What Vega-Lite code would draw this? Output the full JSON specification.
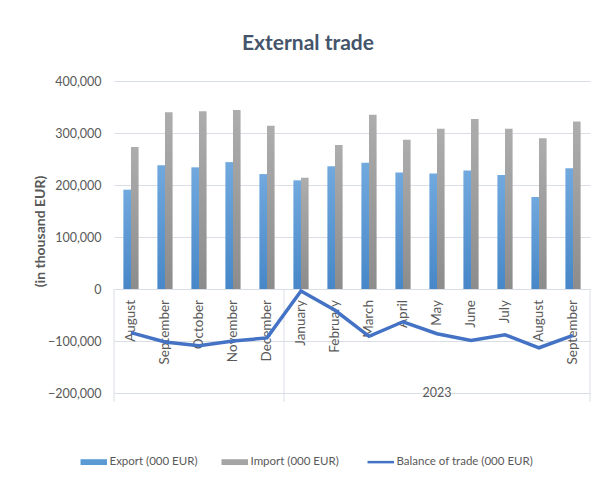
{
  "$schema": "https://vega.github.io/schema/vega-lite/v6.json",
  "width": 476,
  "height": 312,
  "autosize": {"type": "none"},
  "padding": {"left": 114, "top": 81, "right": 9, "bottom": 89},
  "background": "white",
  "config": {
    "font": "Lato",
    "view": {"stroke": null},
    "axis": {"labelFont": "Lato", "titleFont": "Lato"}
  },
  "title": {
    "text": "External trade",
    "font": "Lato",
    "fontSize": 21,
    "fontWeight": "bold",
    "color": "#44546A",
    "anchor": "middle",
    "dx": -44,
    "offset": 21
  },
  "datasets": {
    "trade": [
      {"month": "2022-08", "series": "Export (000 EUR)", "value": 191000},
      {"month": "2022-08", "series": "Import (000 EUR)", "value": 273000},
      {"month": "2022-09", "series": "Export (000 EUR)", "value": 238000},
      {"month": "2022-09", "series": "Import (000 EUR)", "value": 340000},
      {"month": "2022-10", "series": "Export (000 EUR)", "value": 234000},
      {"month": "2022-10", "series": "Import (000 EUR)", "value": 342000},
      {"month": "2022-11", "series": "Export (000 EUR)", "value": 244000},
      {"month": "2022-11", "series": "Import (000 EUR)", "value": 344000},
      {"month": "2022-12", "series": "Export (000 EUR)", "value": 221000},
      {"month": "2022-12", "series": "Import (000 EUR)", "value": 314000},
      {"month": "2023-01", "series": "Export (000 EUR)", "value": 209000},
      {"month": "2023-01", "series": "Import (000 EUR)", "value": 214000},
      {"month": "2023-02", "series": "Export (000 EUR)", "value": 236000},
      {"month": "2023-02", "series": "Import (000 EUR)", "value": 277000},
      {"month": "2023-03", "series": "Export (000 EUR)", "value": 243000},
      {"month": "2023-03", "series": "Import (000 EUR)", "value": 335000},
      {"month": "2023-04", "series": "Export (000 EUR)", "value": 224000},
      {"month": "2023-04", "series": "Import (000 EUR)", "value": 287000},
      {"month": "2023-05", "series": "Export (000 EUR)", "value": 222000},
      {"month": "2023-05", "series": "Import (000 EUR)", "value": 308000},
      {"month": "2023-06", "series": "Export (000 EUR)", "value": 228000},
      {"month": "2023-06", "series": "Import (000 EUR)", "value": 327000},
      {"month": "2023-07", "series": "Export (000 EUR)", "value": 219000},
      {"month": "2023-07", "series": "Import (000 EUR)", "value": 308000},
      {"month": "2023-08", "series": "Export (000 EUR)", "value": 177000},
      {"month": "2023-08", "series": "Import (000 EUR)", "value": 290000},
      {"month": "2023-09", "series": "Export (000 EUR)", "value": 232000},
      {"month": "2023-09", "series": "Import (000 EUR)", "value": 322000}
    ],
    "balance": [
      {"month": "2022-08", "name": "August", "series": "Balance of trade (000 EUR)", "balance": -84000},
      {"month": "2022-09", "name": "September", "series": "Balance of trade (000 EUR)", "balance": -102000},
      {"month": "2022-10", "name": "October", "series": "Balance of trade (000 EUR)", "balance": -109000},
      {"month": "2022-11", "name": "November", "series": "Balance of trade (000 EUR)", "balance": -100000},
      {"month": "2022-12", "name": "December", "series": "Balance of trade (000 EUR)", "balance": -94000},
      {"month": "2023-01", "name": "January", "series": "Balance of trade (000 EUR)", "balance": -4000},
      {"month": "2023-02", "name": "February", "series": "Balance of trade (000 EUR)", "balance": -41000},
      {"month": "2023-03", "name": "March", "series": "Balance of trade (000 EUR)", "balance": -91000},
      {"month": "2023-04", "name": "April", "series": "Balance of trade (000 EUR)", "balance": -63000},
      {"month": "2023-05", "name": "May", "series": "Balance of trade (000 EUR)", "balance": -86000},
      {"month": "2023-06", "name": "June", "series": "Balance of trade (000 EUR)", "balance": -99000},
      {"month": "2023-07", "name": "July", "series": "Balance of trade (000 EUR)", "balance": -88000},
      {"month": "2023-08", "name": "August", "series": "Balance of trade (000 EUR)", "balance": -113000},
      {"month": "2023-09", "name": "September", "series": "Balance of trade (000 EUR)", "balance": -89000}
    ],
    "groups": [
      {"pos": 0, "label": ""},
      {"pos": 5, "label": ""},
      {"pos": 14, "label": ""}
    ],
    "years": [
      {"pos": 9.5, "label": "2023"}
    ]
  },
  "resolve": {"scale": {"x": "independent"}},
  "layer": [
    {
      "data": {"name": "groups"},
      "mark": {"type": "rule", "color": "#D9DEE6", "strokeWidth": 1},
      "encoding": {
        "x": {"field": "pos", "type": "quantitative", "scale": {"domain": [0, 14], "nice": false, "zero": false}, "axis": null},
        "y": {"datum": 0, "type": "quantitative"},
        "y2": {"datum": -217000}
      }
    },
    {
      "data": {"name": "years"},
      "mark": {"type": "text", "fontSize": 12.5, "color": "#595959", "baseline": "middle", "align": "center"},
      "encoding": {
        "x": {"field": "pos", "type": "quantitative", "scale": {"domain": [0, 14], "nice": false, "zero": false}, "axis": null},
        "y": {"datum": -200000, "type": "quantitative"},
        "text": {"field": "label"}
      }
    },
    {
      "layer": [
        {
          "data": {"name": "trade"},
          "mark": {"type": "bar"},
          "encoding": {
            "x": {"field": "month", "type": "nominal", "scale": {"paddingInner": 0.553, "paddingOuter": 0.276}, "axis": null},
            "xOffset": {"field": "series", "type": "nominal", "scale": {"domain": ["Export (000 EUR)", "Import (000 EUR)"], "paddingInner": 0, "paddingOuter": 0}},
            "y": {
              "field": "value",
              "type": "quantitative",
              "scale": {"domain": [-200000, 400000], "nice": false},
              "axis": {
                "title": "(in thousand EUR)",
                "titleFontSize": 14,
                "titleFontWeight": "bold",
                "titleColor": "#595959",
                "titlePadding": 0,
                "titleY": 150,
                "values": [-200000, -100000, 0, 100000, 200000, 300000, 400000],
                "format": ",.0f",
                "labelFontSize": 12.5,
                "labelColor": "#595959",
                "labelPadding": 13,
                "ticks": false,
                "domain": false,
                "grid": true,
                "gridColor": "#D9DEE6",
                "gridWidth": 1
              }
            },
            "fill": {
              "condition": {
                "test": "datum.series === 'Export (000 EUR)'",
                "value": {"gradient": "linear", "x1": 0, "y1": 0, "x2": 0, "y2": 1, "stops": [{"offset": 0, "color": "#71A9DE"}, {"offset": 1, "color": "#4787C8"}]}
              },
              "value": {"gradient": "linear", "x1": 0, "y1": 0, "x2": 0, "y2": 1, "stops": [{"offset": 0, "color": "#ADADAD"}, {"offset": 1, "color": "#8C8C8C"}]}
            }
          }
        },
        {
          "data": {"name": "balance"},
          "mark": {"type": "text", "angle": 270, "align": "right", "baseline": "middle", "dx": -11, "fontSize": 13.5, "color": "#595959"},
          "encoding": {
            "x": {"field": "month", "type": "nominal", "axis": null},
            "y": {"datum": 0, "type": "quantitative"},
            "text": {"field": "name"}
          }
        },
        {
          "data": {"name": "balance"},
          "mark": {"type": "line", "strokeWidth": 3.5, "strokeJoin": "miter"},
          "encoding": {
            "x": {"field": "month", "type": "nominal", "axis": null},
            "y": {"field": "balance", "type": "quantitative"},
            "color": {
              "field": "series",
              "type": "nominal",
              "scale": {
                "domain": ["Export (000 EUR)", "Import (000 EUR)", "Balance of trade (000 EUR)"],
                "range": ["#5B9BD5", "#A5A5A5", "#4472C4"]
              },
              "legend": {
                "orient": "none",
                "legendX": -26,
                "legendY": 375,
                "direction": "horizontal",
                "title": null,
                "symbolSize": 700,
                "labelFontSize": 11.5,
                "labelColor": "#595959",
                "labelFont": "Lato",
                "labelOffset": 10,
                "columnPadding": 23,
                "encode": {
                  "symbols": {
                    "update": {
                      "shape": {"signal": "datum.value === 'Balance of trade (000 EUR)' ? 'M-1,0H1' : 'M-1,-0.22H1V0.22H-1Z'"},
                      "fill": {"signal": "datum.value === 'Balance of trade (000 EUR)' ? 'transparent' : scale('color', datum.value)"},
                      "stroke": {"signal": "datum.value === 'Balance of trade (000 EUR)' ? '#4472C4' : 'transparent'"},
                      "strokeWidth": {"signal": "datum.value === 'Balance of trade (000 EUR)' ? 2.5 : 0"}
                    }
                  }
                }
              }
            }
          }
        }
      ]
    }
  ]
}
